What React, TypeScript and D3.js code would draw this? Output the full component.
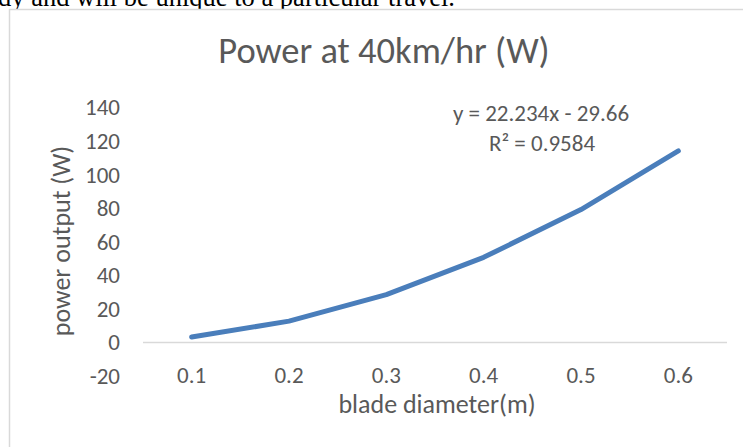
import * as d3 from "d3";
import { useEffect, useRef } from "react";

const categories = ["0.1", "0.2", "0.3", "0.4", "0.5", "0.6"];
const power = [3.2, 12.7, 28.5, 50.7, 79.2, 114.1];
const yTicks = [-20, 0, 20, 40, 60, 80, 100, 120, 140];

const W = 743;
const H = 447;

export default function App() {
  const ref = useRef<SVGSVGElement | null>(null);

  useEffect(() => {
    if (!ref.current) return;
    const svg = d3.select(ref.current);
    svg.selectAll("*").remove();

    const font = "Carlito, Lato, 'Open Sans', sans-serif";
    const grey = "#595959";

    // clipped line of body text above the chart
    svg
      .append("text")
      .attr("x", -2)
      .attr("y", 6)
      .attr("font-family", "'Liberation Serif', 'Times New Roman', serif")
      .attr("font-size", 26.5)
      .attr("fill", "#000")
      .text("dy and will be unique to a particular travel.");

    // chart frame
    svg
      .append("rect")
      .attr("x", 9.5)
      .attr("y", 9.5)
      .attr("width", 760)
      .attr("height", 460)
      .attr("fill", "#fff")
      .attr("stroke", "#d9d9d9")
      .attr("stroke-width", 1.5);

    const x = d3.scaleBand<string>().domain(categories).range([143, 727]);
    const y = d3.scaleLinear().domain([-20, 140]).range([376, 107.5]);

    svg
      .append("text")
      .attr("x", 384)
      .attr("y", 63)
      .attr("text-anchor", "middle")
      .attr("font-family", font)
      .attr("font-size", 36.5)
      .attr("fill", grey)
      .text("Power at 40km/hr (W)");

    // zero baseline
    svg
      .append("line")
      .attr("x1", x.range()[0])
      .attr("x2", x.range()[1])
      .attr("y1", y(0))
      .attr("y2", y(0))
      .attr("stroke", "#d9d9d9")
      .attr("stroke-width", 1.5);

    const yAxis = d3
      .axisLeft(y)
      .tickValues(yTicks)
      .tickFormat((v) => String(v))
      .tickSize(0)
      .tickPadding(0);
    const gy = svg.append("g").attr("transform", "translate(120,0)").call(yAxis);
    gy.select(".domain").remove();
    gy.selectAll("text")
      .attr("font-family", font)
      .attr("font-size", 23)
      .attr("fill", grey);

    const xAxis = d3.axisBottom(x).tickSize(0).tickPadding(0);
    const gx = svg.append("g").attr("transform", "translate(0,376)").call(xAxis);
    gx.select(".domain").remove();
    gx.selectAll("text")
      .attr("y", 0)
      .attr("dy", "0.32em")
      .attr("font-family", font)
      .attr("font-size", 23)
      .attr("fill", grey);

    const line = d3
      .line<number>()
      .x((_, i) => (x(categories[i]) ?? 0) + x.bandwidth() / 2)
      .y((d) => y(d));

    svg
      .append("path")
      .datum(power)
      .attr("fill", "none")
      .attr("stroke", "#4a7ebb")
      .attr("stroke-width", 5)
      .attr("stroke-linecap", "round")
      .attr("stroke-linejoin", "round")
      .attr("d", line);

    svg
      .append("text")
      .attr("x", 437)
      .attr("y", 413)
      .attr("text-anchor", "middle")
      .attr("font-family", font)
      .attr("font-size", 26)
      .attr("fill", grey)
      .text("blade diameter(m)");

    svg
      .append("text")
      .attr("transform", "translate(70,241) rotate(-90)")
      .attr("text-anchor", "middle")
      .attr("font-family", font)
      .attr("font-size", 26)
      .attr("fill", grey)
      .text("power output (W)");

    svg
      .append("text")
      .attr("x", 541)
      .attr("y", 121)
      .attr("text-anchor", "middle")
      .attr("font-family", font)
      .attr("font-size", 23)
      .attr("fill", grey)
      .text("y = 22.234x - 29.66");

    svg
      .append("text")
      .attr("x", 542)
      .attr("y", 151)
      .attr("text-anchor", "middle")
      .attr("font-family", font)
      .attr("font-size", 23)
      .attr("fill", grey)
      .text("R² = 0.9584");
  }, []);

  return (
    <svg
      ref={ref}
      width={W}
      height={H}
      style={{ position: "absolute", left: 0, top: 0, display: "block", background: "#fff" }}
    />
  );
}
